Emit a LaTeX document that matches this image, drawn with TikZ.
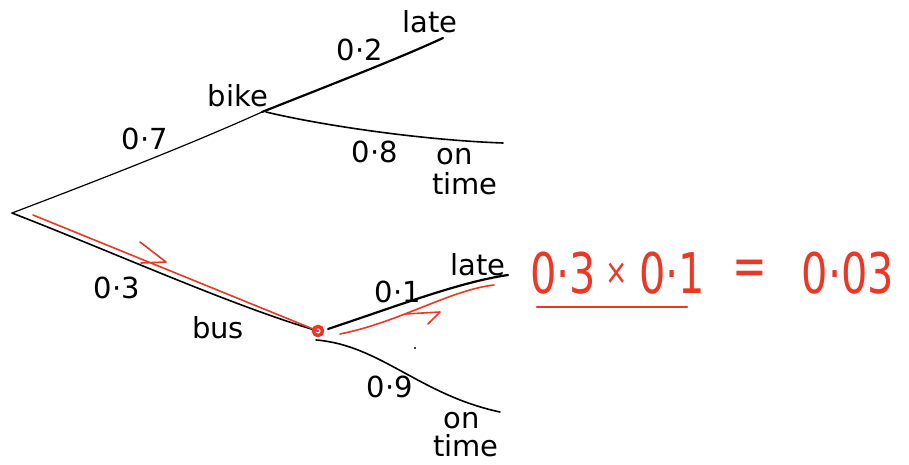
\documentclass[tikz,border=0pt]{standalone}
\usepackage{fontspec}
\setmainfont{DejaVu Sans}
\usetikzlibrary{calc}
\definecolor{pen}{RGB}{235,55,35}
\tikzset{
  branch/.style={line width=1.6pt, line cap=round},
  redpath/.style={pen, line width=1.6pt, line cap=round},
  chev/.style={pen, line width=1.6pt, line cap=round, line join=round},
  lbl/.style={font=\fontsize{29}{29}\selectfont, inner sep=0pt},
  eq/.style={pen, font=\fontsize{56}{56}\selectfont, inner sep=0pt}
}
\newcommand{\nar}[1]{\scalebox{0.74}[1]{#1}}
\begin{document}
\begin{tikzpicture}[x=1pt,y=-1pt]
\useasboundingbox (0,0) rectangle (909,465);
% tree points
\coordinate (root) at (12,213);
\coordinate (bike) at (262,112);
\coordinate (bikeb) at (266,112);
\coordinate (bus) at (318,331);
\coordinate (busu) at (328,329);
\coordinate (busd) at (316,340);
\coordinate (bl) at (443,38);
\coordinate (bo) at (503,143);
\coordinate (ul) at (508,275);
\coordinate (uo) at (500,412);
% branches
\draw[branch, line width=1.2pt] (root) .. controls (120,172) and (200,140) .. (bike);
\draw[branch, line width=2.2pt] (bike) .. controls (330,85) and (400,58) .. (bl);
\draw[branch] (bikeb) .. controls (320,125) and (420,140) .. (bo);
\draw[branch] (root) .. controls (120,255) and (230,305) .. (bus);
\draw[branch, line width=2.2pt] (busu) .. controls (400,305) and (460,282) .. (ul);
\draw[branch] (busd) .. controls (380,345) and (420,395) .. (uo);
% red path
\coordinate (r0) at (33,215);
\coordinate (r1) at (340,334);
\coordinate (r2) at (494,285);
\draw[redpath] (r0) -- (bus);
\draw[pen, line width=3.5pt] (bus) circle (4.5);
\draw[redpath] (r1) .. controls (400,322) and (450,290) .. (r2);
\coordinate (c1) at (166,262);
\coordinate (c2) at (440,312);
\draw[chev] ($(c1)+(-26,-20)$) -- (c1) -- ($(c1)+(-25,1)$);
\draw[chev] ($(c2)+(-35,2)$) -- (c2) -- ($(c2)+(-12,12)$);
\fill (415,348) circle (1.2);
% labels
\node[lbl] (p07) at (145,139) {0·7};
\node[lbl] (lbike) at (238,96) {bike};
\node[lbl] (p02) at (360,50) {0·2};
\node[lbl] (lbl1) at (430,22) {late};
\node[lbl] (p08) at (375,152) {0·8};
\node[lbl] (on1) at (455,157) {on};
\node[lbl] (t1) at (465,184) {time};
\node[lbl] (p03) at (117,288) {0·3};
\node[lbl] (lbus) at (218,328) {bus};
\node[lbl] (p01) at (398,292) {0·1};
\node[lbl] (lbl2) at (478,265) {late};
\node[lbl] (p09) at (390,387) {0·9};
\node[lbl] (on2) at (462,421) {on};
\node[lbl] (t2) at (466,446) {time};
% equation
\node[eq] (e1) at (563,273) {\nar{0·3}};
\node[eq, font=\fontsize{36}{36}\selectfont] (e2) at (617,274) {\nar{×}};
\node[eq] (e3) at (672,273) {\nar{0·1}};
\node[eq] (e4) at (750,273) {\nar{=}};
\node[eq] (e5) at (848,273) {\nar{0·03}};
\coordinate (u0) at (537,307);
\coordinate (u1) at (687,307);
\draw[redpath, line width=2.4pt] (u0) -- (u1);
\end{tikzpicture}
\end{document}
